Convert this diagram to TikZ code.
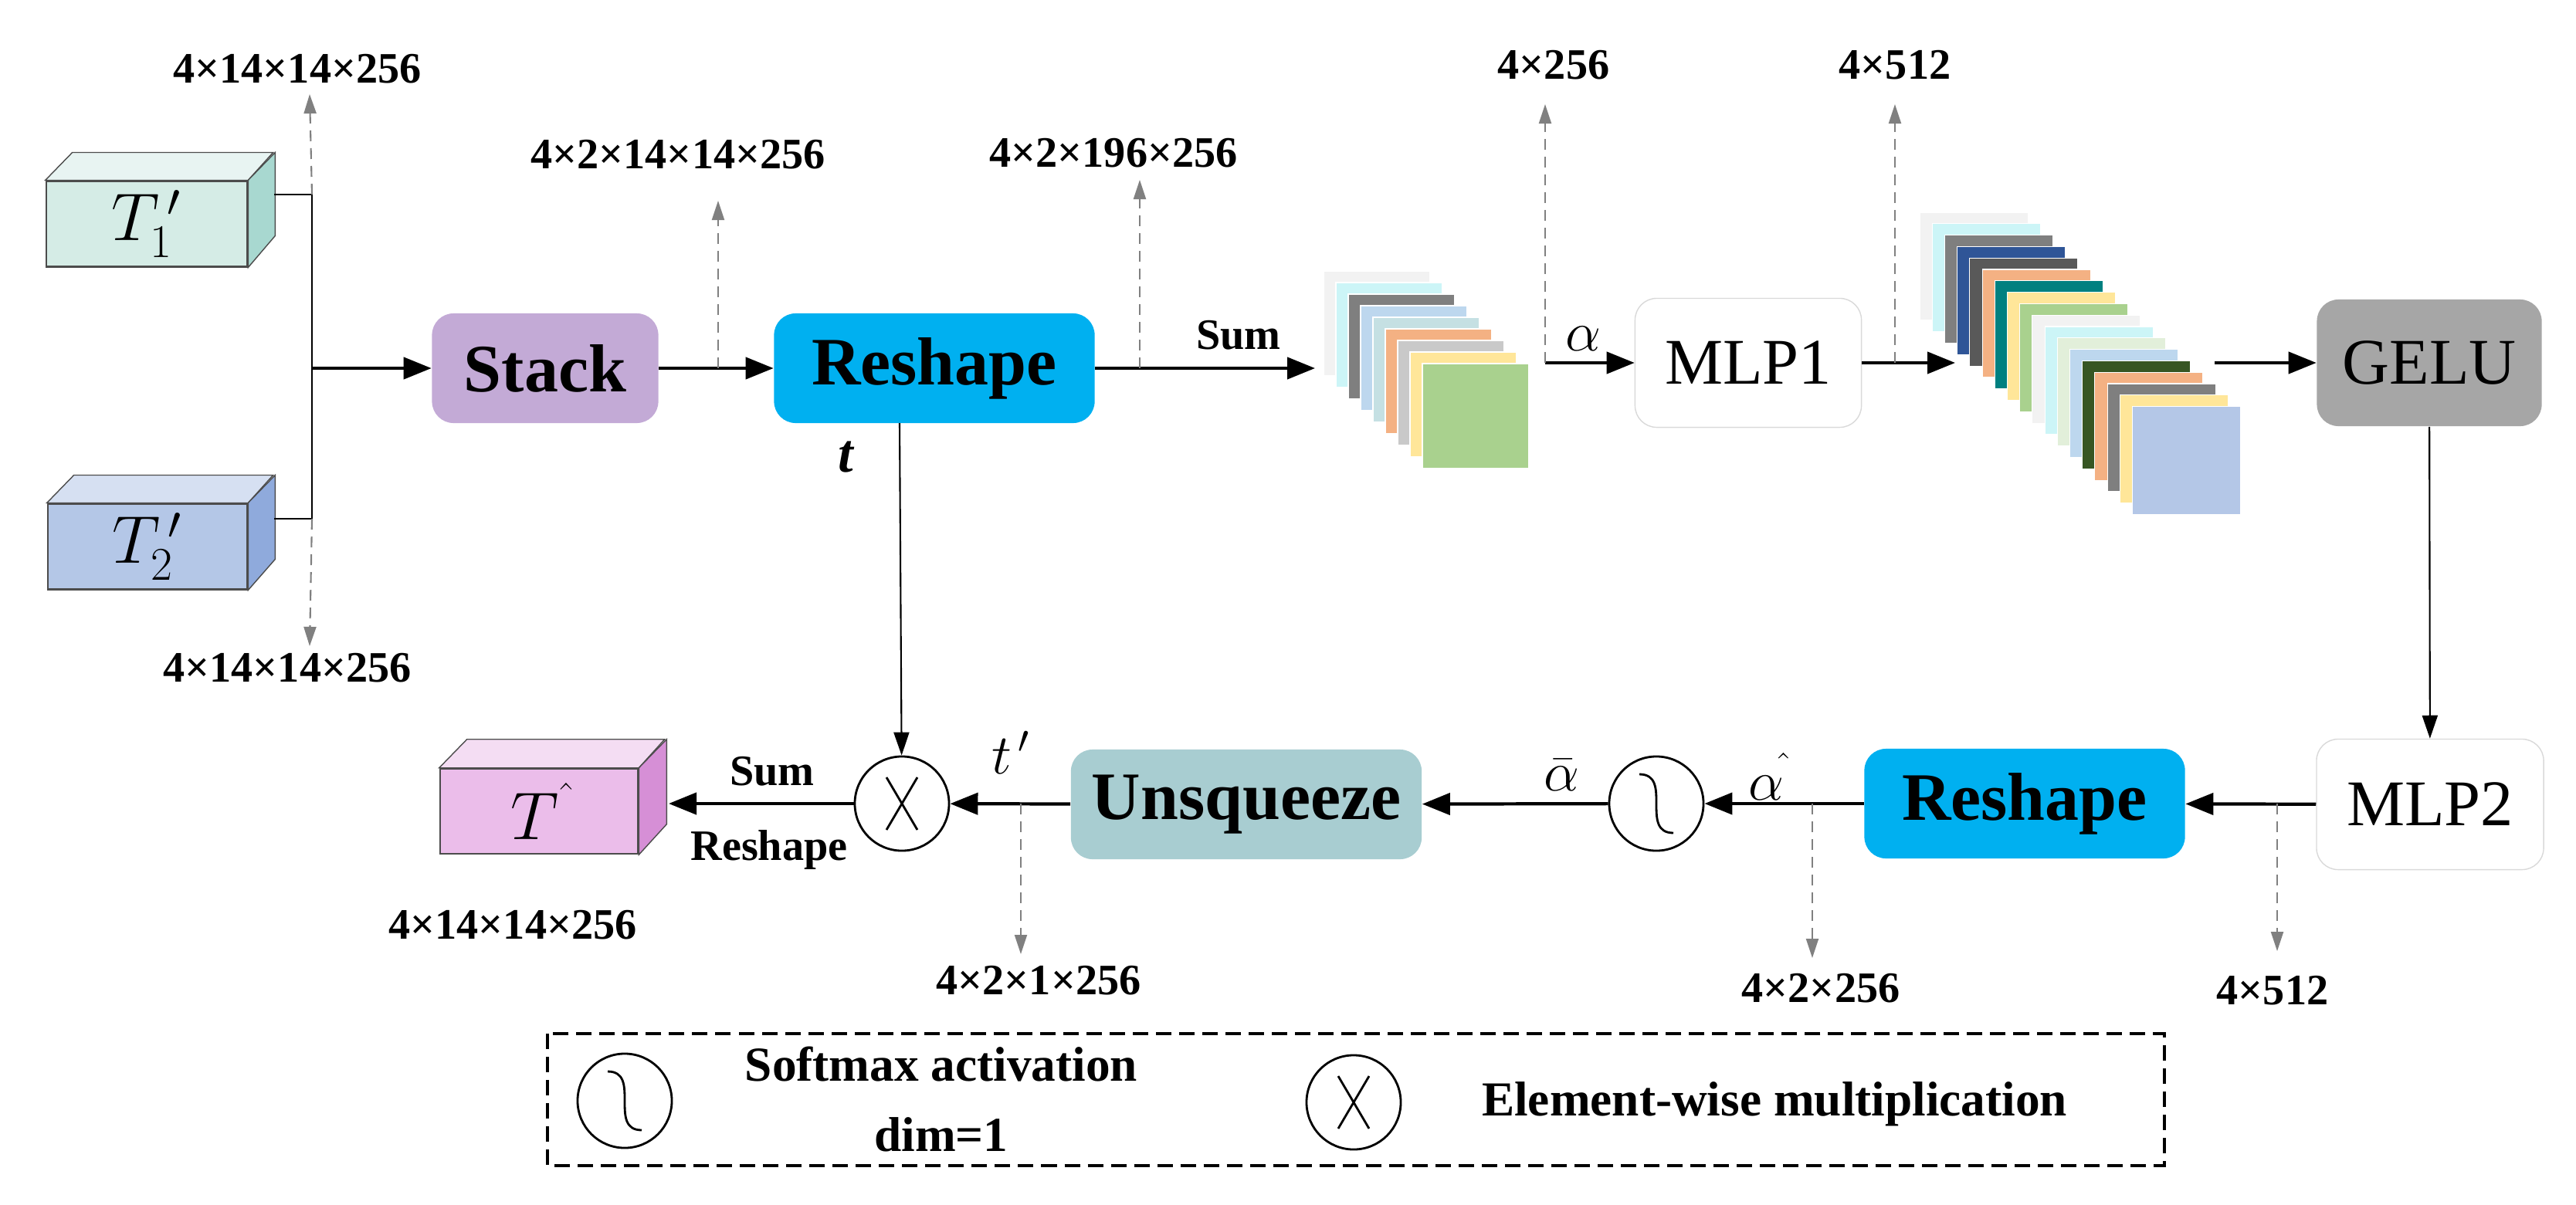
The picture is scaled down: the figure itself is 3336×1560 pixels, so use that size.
\documentclass[tikz,border=0pt]{standalone}
\usepackage{fontspec}
\setmainfont{Liberation Serif}
\usetikzlibrary{arrows.meta,calc}
\definecolor{tA}{HTML}{D5ECE6}\definecolor{tAs}{HTML}{A8D8D0}\definecolor{tAt}{HTML}{E8F4F2}
\definecolor{tB}{HTML}{B4C7E7}\definecolor{tBs}{HTML}{8FAADC}\definecolor{tBt}{HTML}{D6E0F2}
\definecolor{tC}{HTML}{EBBDEA}\definecolor{tCs}{HTML}{D68FD6}\definecolor{tCt}{HTML}{F4DDF3}
\definecolor{cStack}{HTML}{C3AAD6}\definecolor{cRes}{HTML}{00B0F0}\definecolor{cUns}{HTML}{A8CDD1}
\definecolor{cGelu}{HTML}{A6A6A6}
\definecolor{s01}{HTML}{F2F2F2}\definecolor{s02}{HTML}{CCF5F7}\definecolor{s03}{HTML}{7F7F7F}
\definecolor{s04}{HTML}{BDD7EE}\definecolor{s05}{HTML}{C5E0E3}\definecolor{s06}{HTML}{F4B183}
\definecolor{s07}{HTML}{C9C9C9}\definecolor{s08}{HTML}{FFE699}\definecolor{s09}{HTML}{A9D18E}
\definecolor{s10}{HTML}{2F5597}\definecolor{s11}{HTML}{595959}\definecolor{s12}{HTML}{008080}
\definecolor{s13}{HTML}{E2EFDA}\definecolor{s14}{HTML}{375623}\definecolor{s15}{HTML}{B4C7E7}
\begin{document}
\begin{tikzpicture}[x=0.01cm,y=-0.01cm,
  arr/.style={line width=1.2pt,-{Triangle[length=0.36cm,width=0.28cm]}},
  thn/.style={line width=0.6pt},
  dsh/.style={line width=0.6pt,draw=gray,dash pattern=on 0.14cm off 0.09cm,-{Triangle[length=0.25cm,width=0.16cm]},color=gray},
  dim/.style={font=\bfseries\fontsize{16}{18}\selectfont},
  box/.style={rounded corners=0.28cm,minimum height=1.42cm,font=\bfseries\fontsize{25}{28}\selectfont},
  wbox/.style={rounded corners=0.28cm,draw=black!15,fill=white,font=\fontsize{24}{28}\selectfont},
  front/.style={draw=black!70,line width=0.7pt,font=\fontsize{26}{28}\selectfont},
  circ/.style={circle,draw,line width=0.8pt,minimum size=1.22cm,inner sep=0pt},
  lbl/.style={font=\bfseries\fontsize{16}{18}\selectfont}]
\useasboundingbox (0,0) rectangle (3336,1560);
% cubes
\node[front,fill=tA,minimum width=2.6cm,minimum height=1.08cm] (T1) at (190,290) {$T_1^{\,\prime}$};
\fill[tAt,draw=black!70] (T1.north west) -- ++(35,-36) -- ++(260,0) -- (T1.north east) -- cycle;
\fill[tAs,draw=black!70] (T1.north east) -- ++(35,-36) -- ++(0,108) -- (T1.south east) -- cycle;
\node[front,fill=tB,minimum width=2.58cm,minimum height=1.09cm] (T2) at (191,708) {$T_2^{\,\prime}$};
\fill[tBt,draw=black!70] (T2.north west) -- ++(35,-36) -- ++(258,0) -- (T2.north east) -- cycle;
\fill[tBs,draw=black!70] (T2.north east) -- ++(35,-36) -- ++(0,109) -- (T2.south east) -- cycle;
\node[front,fill=tC,minimum width=2.56cm,minimum height=1.1cm] (TH) at (698,1051) {$T^{\,\hat{}}$};
\fill[tCt,draw=black!70] (TH.north west) -- ++(36,-37) -- ++(256,0) -- (TH.north east) -- cycle;
\fill[tCs,draw=black!70] (TH.north east) -- ++(36,-37) -- ++(0,110) -- (TH.south east) -- cycle;
% top row nodes
\node[box,fill=cStack,minimum width=2.93cm] (stack) at (706,477) {Stack};
\node[box,fill=cRes,minimum width=4.15cm] (rs1) at (1210,477) {Reshape};
\node[wbox,minimum width=2.93cm,minimum height=1.67cm] (mlp1) at (2264,470) {MLP1};
\node[box,fill=cGelu,font=\fontsize{24}{28}\selectfont,minimum width=2.91cm,minimum height=1.64cm] (gelu) at (3146,470) {GELU};
% bottom row
\node[wbox,minimum width=2.94cm,minimum height=1.69cm] (mlp2) at (3147,1042) {MLP2};
\node[box,fill=cRes,minimum width=4.15cm] (rs2) at (2622,1041) {Reshape};
\node[circ] (sm) at (2145,1041) {};
\draw[line width=0.8pt,shift={(sm.center)}] (-22,-38) .. controls (22,-38) and (-22,38) .. (22,38);
\node[box,fill=cUns,minimum width=4.54cm] (uns) at (1614,1042) {Unsqueeze};
\node[circ] (mul) at (1168,1041) {};
\draw[line width=0.8pt,shift={(mul.center)}] (-20,-34) -- (20,34) (-20,34) -- (20,-34);
% sheets
\foreach \c [count=\i from 0] in {s01,s02,s03,s04,s05,s06,s07,s08,s09}
  \fill[\c,draw=white,line width=0.3pt] (1714+16*\i,351+15*\i) rectangle ++(138,136);
\foreach \c [count=\i from 0] in {s01,s02,s03,s10,s11,s06,s12,s08,s09,s01,s02,s13,s04,s14,s06,s03,s08,s15}
  \fill[\c,draw=white,line width=0.3pt] (2486+16.2*\i,275+14.8*\i) rectangle ++(140,140);
% coordinates
\coordinate (w1) at (355,252); \coordinate (w2) at (355,672);
\coordinate (j1) at (404,252); \coordinate (j2) at (404,672); \coordinate (j) at (404,477);
\coordinate (u1) at (401,122); \coordinate (d1) at (401,837);
\coordinate (b1) at (930,477); \coordinate (u2) at (930,260);
\coordinate (b2) at (1476,477); \coordinate (u3) at (1476,233);
\coordinate (sh1) at (1703,477);
\coordinate (b3) at (2001,470); \coordinate (u4) at (2001,135);
\coordinate (sh2) at (2532,470);
\coordinate (b4) at (2454,470); \coordinate (u5) at (2454,135);
\coordinate (sh2r) at (2868,470);
\coordinate (b5) at (2949,1041); \coordinate (d5) at (2949,1232);
\coordinate (b6) at (2347,1041); \coordinate (d6) at (2347,1241);
\coordinate (b7) at (1322,1041); \coordinate (d7) at (1322,1236);
\coordinate (tdn) at (1165,548);
\coordinate (thr) at (866,1041);
% connectors
\draw[thn] (w1) -- (j1) -- (j2) -- (w2);
\draw[arr] (j) -- (stack);
\draw[arr] (stack) -- (rs1);
\draw[arr] (rs1) -- (sh1);
\draw[arr] (b3) -- (mlp1);
\draw[arr] (mlp1) -- (sh2);
\draw[arr] (sh2r) -- (gelu);
\draw[thn,-{Triangle[length=0.3cm,width=0.2cm]}] (gelu) -- (mlp2);
\draw[arr] (mlp2) -- (rs2);
\draw[arr] (rs2) -- (sm);
\draw[arr] (sm) -- (uns);
\draw[arr] (uns) -- (mul);
\draw[arr] (mul) -- (thr);
\draw[thn,-{Triangle[length=0.3cm,width=0.2cm]}] (tdn) -- (mul);
\draw[dsh] (j1) -- (u1);
\draw[dsh] (j2) -- (d1);
\draw[dsh] (b1) -- (u2);
\draw[dsh] (b2) -- (u3);
\draw[dsh] (b3) -- (u4);
\draw[dsh] (b4) -- (u5);
\draw[dsh] (b5) -- (d5);
\draw[dsh] (b6) -- (d6);
\draw[dsh] (b7) -- (d7);
% labels
\node[dim] (l1) at (385,89) {4×14×14×256};
\node[dim] (l2) at (372,865) {4×14×14×256};
\node[dim] (l3) at (878,200) {4×2×14×14×256};
\node[dim] (l4) at (1442,198) {4×2×196×256};
\node[dim] (l5) at (2012,84) {4×256};
\node[dim] (l6) at (2454,84) {4×512};
\node[dim] (l7) at (2943,1283) {4×512};
\node[dim] (l8) at (2358,1280) {4×2×256};
\node[dim] (l9) at (1345,1270) {4×2×1×256};
\node[dim] (l10) at (664,1198) {4×14×14×256};
\node[lbl] (sum1) at (1604,434) {Sum};
\node[lbl] (sum2) at (1000,999) {Sum};
\node[lbl] (rsl) at (996,1101) {Reshape};
\node[font=\fontsize{22}{24}\selectfont] (al) at (2050,439) {$\alpha$};
\node[font=\fontsize{20}{24}\selectfont] (ah) at (2288,1006) {$\alpha^{\hat{}}$};
\node[font=\fontsize{20}{24}\selectfont] (ab) at (2022,1004) {$\bar{\alpha}$};
\node[font=\fontsize{20}{24}\selectfont] (tp) at (1309,975) {$t^{\,\prime}$};
\node[font=\bfseries\itshape\fontsize{20}{24}\selectfont] (tt) at (1095,592) {t};
% legend
\draw[line width=1.1pt,dash pattern=on 0.2cm off 0.1cm] (709,1339) rectangle (2803,1510);
\node[circ] (lsm) at (809,1426) {};
\draw[line width=0.8pt,shift={(lsm.center)}] (-22,-38) .. controls (22,-38) and (-22,38) .. (22,38);
\node[lbl,font=\bfseries\fontsize{18}{26}\selectfont,align=center] (lt1) at (1219,1424) {Softmax activation\\dim=1};
\node[circ] (lmul) at (1753,1428) {};
\draw[line width=0.8pt,shift={(lmul.center)}] (-20,-34) -- (20,34) (-20,34) -- (20,-34);
\node[lbl,font=\bfseries\fontsize{18}{22}\selectfont] (lt2) at (2298,1430) {Element-wise multiplication};
\end{tikzpicture}
\end{document}
